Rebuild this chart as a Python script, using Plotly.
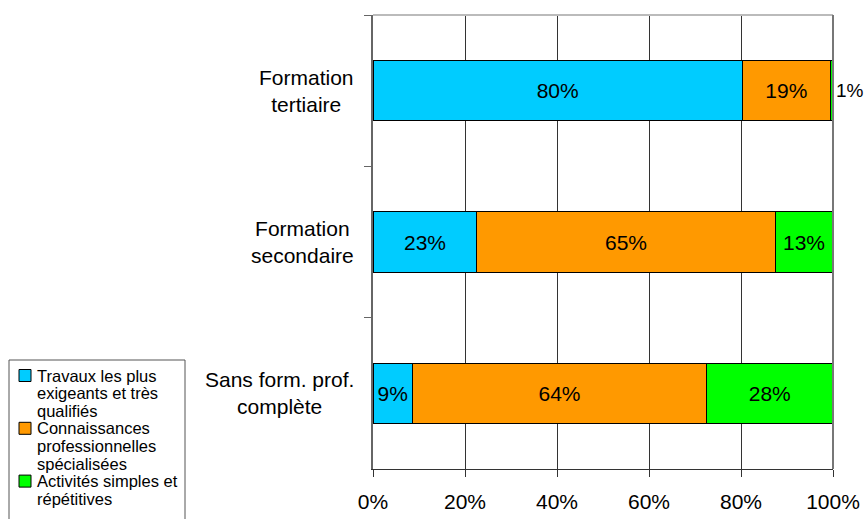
import plotly.graph_objects as go

categories = ["Formation<br>tertiaire", "Formation<br>secondaire", "Sans form. prof.<br>complète"]
series_names = [
    "Travaux les plus<br>exigeants et très<br>qualifiés",
    "Connaissances<br>professionnelles<br>spécialisées",
    "Activités simples et<br>répétitives",
]
travaux = [80.3, 22.6, 8.6]
connaissances = [19.1, 64.8, 63.9]
activites = [0.6, 12.6, 27.5]
colors = ["#00CCFF", "#FF9900", "#00FF00"]
x_ticks = [0, 20, 40, 60, 80, 100]

FONT = "Arial, Liberation Sans, sans-serif"
W, H = 864, 519
ML, MR, MT, MB = 373, 31, 15, 50
PW, PH = W - ML - MR, H - MT - MB


def px_x(px):
    return (px - ML) / PW


def px_y(py):
    return (H - MB - py) / PH


fig = go.Figure()
for name, vals, col in zip(series_names, [travaux, connaissances, activites], colors):
    pos = ["inside"] * len(vals)
    sizes = [21] * len(vals)
    if vals is activites:
        pos = ["outside" if v < 3 else "inside" for v in vals]
        sizes = [19 if v < 3 else 21 for v in vals]
    fig.add_trace(go.Bar(
        y=categories, x=vals, name=name, orientation="h",
        marker=dict(color=col, line=dict(color="#000000", width=1)),
        width=0.4,
        texttemplate="%{x:.0f}%", textposition=pos,
        insidetextanchor="middle", constraintext="none",
        textfont=dict(family=FONT, size=sizes, color="#000000"),
        cliponaxis=False, showlegend=False,
    ))

annotations = []
for c in categories:
    annotations.append(dict(
        x=px_x(356), xref="paper", y=c, yref="y", text=c, showarrow=False,
        xanchor="right", yanchor="middle", align="center",
        font=dict(family=FONT, size=21, color="#000000"),
    ))

# Legend drawn as a boxed key (tight line spacing as in the reference)
shapes = [
    dict(type="line", xref="paper", yref="paper", x0=0, x1=1, y0=1, y1=1,
         line=dict(color="#BBBBBB", width=2)),
    dict(type="line", xref="paper", yref="paper", x0=1, x1=1, y0=0, y1=1,
         line=dict(color="#777777", width=2)),
    dict(type="rect", xref="paper", yref="paper", x0=px_x(9), x1=px_x(185),
         y0=px_y(530), y1=px_y(360), line=dict(color="#555555", width=1),
         fillcolor="rgba(0,0,0,0)", layer="below"),
]
line_h = 17.6
y_line = 375.5
for name, col in zip(series_names, colors):
    lines = name.split("<br>")
    shapes.append(dict(type="rect", xref="paper", yref="paper",
                       x0=px_x(19), x1=px_x(31), y0=px_y(y_line + 6), y1=px_y(y_line - 6),
                       line=dict(color="#000000", width=1), fillcolor=col))
    for ln in lines:
        annotations.append(dict(
            x=px_x(35), xref="paper", y=px_y(y_line), yref="paper", text=ln,
            showarrow=False, xanchor="left", yanchor="middle", align="left",
            font=dict(family=FONT, size=16.5, color="#000000"),
        ))
        y_line += line_h

fig.update_layout(
    width=W, height=H,
    margin=dict(l=ML, r=MR, t=MT, b=MB, autoexpand=False),
    barmode="stack",
    plot_bgcolor="#FFFFFF", paper_bgcolor="#FFFFFF",
    font=dict(family=FONT, size=21, color="#000000"),
    showlegend=False,
    xaxis=dict(
        range=[0, 100], tickvals=x_ticks, ticktext=[f"{v}%" for v in x_ticks],
        showgrid=True, gridcolor="#333333", gridwidth=1,
        showline=True, linecolor="#333333", linewidth=1,
        ticks="outside", ticklen=7, tickcolor="#333333",
        tickfont=dict(family=FONT, size=21, color="#000000"),
        ticklabelstandoff=7, zeroline=False, fixedrange=True,
    ),
    yaxis=dict(
        autorange="reversed", type="category",
        showgrid=False, showline=True, linecolor="#666666", linewidth=2,
        ticks="outside", ticklen=7, tickcolor="#666666", tickson="boundaries",
        showticklabels=False, zeroline=False,
    ),
    annotations=annotations,
    shapes=shapes,
)

fig.write_html("out.html")
